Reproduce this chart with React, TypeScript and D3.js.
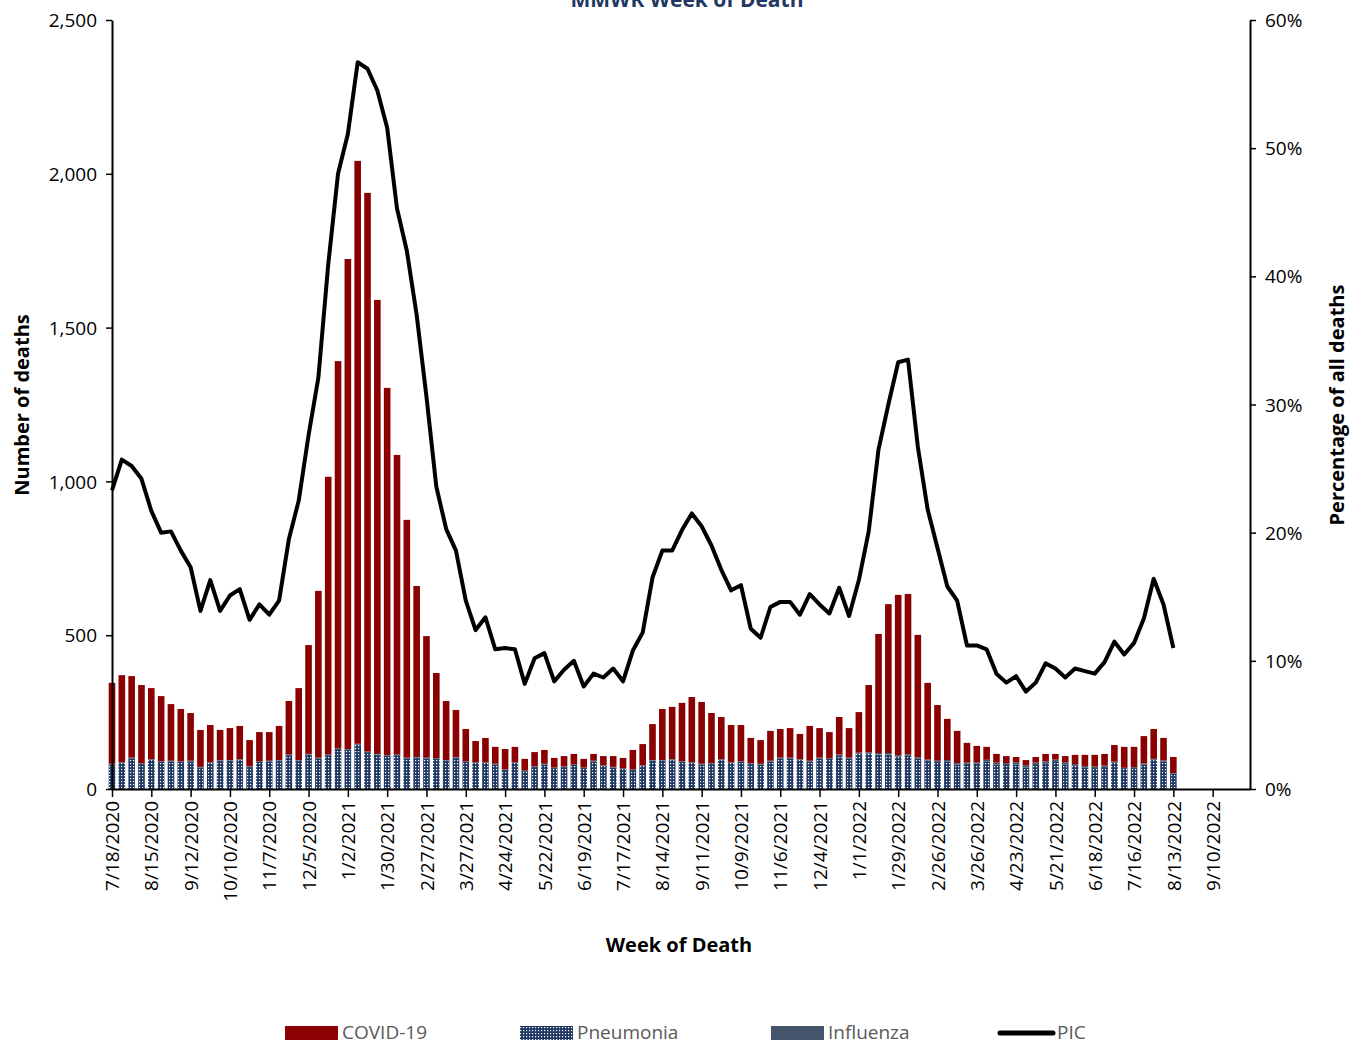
import React, { useEffect, useRef } from 'react';
import * as d3 from 'd3';

// Week labels every 4 weeks from 7/18/2020
const tickLabels = ['7/18/2020', '8/15/2020', '9/12/2020', '10/10/2020', '11/7/2020', '12/5/2020', '1/2/2021', '1/30/2021', '2/27/2021', '3/27/2021', '4/24/2021', '5/22/2021', '6/19/2021', '7/17/2021', '8/14/2021', '9/11/2021', '10/9/2021', '11/6/2021', '12/4/2021', '1/1/2022', '1/29/2022', '2/26/2022', '3/26/2022', '4/23/2022', '5/21/2022', '6/18/2022', '7/16/2022', '8/13/2022', '9/10/2022'];

// total deaths (PIC bar height) per week
const totals = [345, 370, 367, 338, 328, 302, 276, 260, 247, 192, 208, 192, 198, 205, 159, 185, 185, 205, 286, 328,
  468, 644, 1015, 1391, 1723, 2042, 1938, 1590, 1304, 1086, 875, 660, 497, 377, 286, 257, 195, 156, 166, 137,
  130, 137, 98, 120, 127, 101, 107, 114, 98, 114, 107, 107, 101, 127, 146, 211, 260, 267, 280, 299,
  283, 247, 234, 208, 208, 166, 159, 189, 195, 198, 179, 205, 198, 185, 234, 198, 250, 338, 504, 601,
  631, 634, 501, 345, 273, 228, 189, 150, 140, 137, 114, 107, 104, 94, 104, 114, 114, 107, 111, 111,
  111, 114, 143, 137, 137, 172, 195, 166, 104];

const pneumonia = [80, 85, 100, 82, 95, 88, 90, 88, 90, 70, 85, 92, 92, 95, 72, 88, 90, 92, 110, 92,
  112, 100, 110, 130, 128, 145, 120, 112, 108, 110, 100, 102, 100, 98, 92, 102, 88, 85, 85, 80,
  62, 85, 58, 72, 80, 68, 72, 78, 68, 90, 75, 70, 65, 62, 75, 92, 92, 95, 88, 85,
  80, 82, 95, 85, 88, 82, 80, 90, 100, 100, 95, 90, 100, 98, 110, 100, 115, 115, 112, 112,
  105, 108, 98, 92, 88, 90, 80, 82, 82, 90, 80, 78, 80, 70, 78, 82, 88, 80, 75, 70,
  68, 72, 85, 65, 68, 80, 95, 90, 50];

const influenza = [2, 2, 2, 2, 2, 2, 2, 2, 2, 2, 2, 2, 2, 2, 2, 2, 2, 2, 2, 2,
  2, 2, 2, 2, 2, 2, 2, 2, 2, 2, 2, 2, 2, 2, 2, 2, 2, 2, 2, 2,
  2, 2, 2, 2, 2, 2, 2, 2, 2, 2, 2, 2, 2, 2, 2, 2, 2, 2, 2, 2,
  2, 2, 2, 2, 2, 2, 2, 2, 2, 2, 2, 2, 2, 2, 2, 2, 3, 4, 5, 5,
  5, 5, 5, 4, 4, 4, 4, 4, 5, 5, 6, 6, 7, 7, 8, 8, 8, 7, 6, 5,
  5, 4, 4, 4, 3, 3, 3, 3, 2];

// percent of all deaths due to PIC
const picPct = [23.3, 25.7, 25.2, 24.2, 21.7, 20.0, 20.1, 18.6, 17.3, 13.9, 16.3, 13.9, 15.1, 15.6, 13.2, 14.4, 13.6, 14.7, 19.5, 22.5,
  27.6, 32.1, 40.9, 48.0, 51.1, 56.7, 56.2, 54.5, 51.6, 45.3, 42.0, 37.0, 30.6, 23.6, 20.3, 18.6, 14.7, 12.4, 13.4, 10.9,
  11.0, 10.9, 8.2, 10.2, 10.6, 8.4, 9.3, 10.0, 8.0, 9.0, 8.7, 9.4, 8.4, 10.8, 12.2, 16.5, 18.6, 18.6, 20.2, 21.5,
  20.5, 19.0, 17.1, 15.5, 15.9, 12.5, 11.8, 14.2, 14.6, 14.6, 13.6, 15.2, 14.4, 13.7, 15.7, 13.5, 16.3, 20.1, 26.5, 30.0,
  33.3, 33.5, 26.7, 21.8, 18.8, 15.8, 14.7, 11.2, 11.2, 10.9, 9.0, 8.3, 8.8, 7.6, 8.3, 9.8, 9.4, 8.7, 9.4, 9.2,
  9.0, 9.9, 11.5, 10.5, 11.4, 13.3, 16.4, 14.4, 11.0];

const leftTicks = [0, 500, 1000, 1500, 2000, 2500];
const rightTicks = [0, 10, 20, 30, 40, 50, 60];

const App: React.FC = () => {
  const ref = useRef<SVGSVGElement | null>(null);

  useEffect(() => {
    if (!ref.current) return;
    const svg = d3.select(ref.current);
    svg.selectAll('*').remove();
    const font = 'Open Sans, sans-serif';
    const left = 112, right = 1250, top = 20, bottom = 789;

    const x = d3.scaleLinear().domain([0, 115.8]).range([left, right]);
    const y = d3.scaleLinear().domain([0, 2500]).range([bottom, top]);
    const y2 = d3.scaleLinear().domain([0, 60]).range([bottom, top]);
    const bw = 6.6;

    const defs = svg.append('defs');
    const pat = defs.append('pattern').attr('id', 'dots').attr('patternUnits', 'userSpaceOnUse')
      .attr('width', 3).attr('height', 3);
    pat.append('rect').attr('width', 3).attr('height', 3).attr('fill', '#1f3763');
    pat.append('rect').attr('x', 1).attr('y', 1).attr('width', 1.2).attr('height', 1.2).attr('fill', '#fff');

    const idx = d3.range(totals.length);
    // pneumonia bottom
    svg.append('g').selectAll('rect').data(idx).enter().append('rect')
      .attr('x', (i) => x(i) - bw / 2).attr('width', bw)
      .attr('y', (i) => y(pneumonia[i])).attr('height', (i) => y(0) - y(pneumonia[i]))
      .attr('fill', 'url(#dots)');
    // influenza
    svg.append('g').selectAll('rect').data(idx).enter().append('rect')
      .attr('x', (i) => x(i) - bw / 2).attr('width', bw)
      .attr('y', (i) => y(pneumonia[i] + influenza[i])).attr('height', (i) => y(pneumonia[i]) - y(pneumonia[i] + influenza[i]))
      .attr('fill', '#44546a');
    // covid on top
    svg.append('g').selectAll('rect').data(idx).enter().append('rect')
      .attr('x', (i) => x(i) - bw / 2).attr('width', bw)
      .attr('y', (i) => y(totals[i])).attr('height', (i) => y(pneumonia[i] + influenza[i]) - y(totals[i]))
      .attr('fill', '#8b0000');

    const line = d3.line<number>().x((_, i) => x(i)).y((d) => y2(d));
    svg.append('path').datum(picPct).attr('d', line).attr('fill', 'none')
      .attr('stroke', '#000').attr('stroke-width', 4).attr('stroke-linejoin', 'round');

    // left axis
    const la = svg.append('g').attr('transform', `translate(${left},0)`)
      .call(d3.axisLeft(y).tickValues(leftTicks).tickFormat(d3.format(',')).tickSize(6).tickSizeOuter(0));
    la.select('.domain').attr('stroke-width', 2);
    la.selectAll('line').attr('stroke-width', 1.5);
    la.selectAll('text').style('font-size', '19px').style('font-family', font).attr('dx', '-6').attr('dy', '0.35em');

    // right axis
    const ra = svg.append('g').attr('transform', `translate(${right},0)`)
      .call(d3.axisRight(y2).tickValues(rightTicks).tickFormat((d) => `${d}%`).tickSize(6).tickSizeOuter(0));
    ra.select('.domain').attr('stroke-width', 2);
    ra.selectAll('line').attr('stroke-width', 1.5);
    ra.selectAll('text').style('font-size', '19px').style('font-family', font).attr('dx', '6').attr('dy', '0.35em');

    // bottom axis
    const ba = svg.append('g').attr('transform', `translate(0,${bottom})`)
      .call(d3.axisBottom(x).tickValues(tickLabels.map((_, i) => i * 4))
        .tickFormat((d) => tickLabels[(d as number) / 4]).tickSize(8).tickSizeOuter(0));
    ba.select('.domain').attr('stroke-width', 2);
    ba.selectAll('line').attr('stroke-width', 1.5);
    ba.selectAll('text').attr('transform', 'rotate(-90)').attr('x', -12).attr('y', 0).attr('dy', '0.35em')
      .style('text-anchor', 'end').style('font-size', '19px').style('font-family', font);

    svg.append('text').attr('x', 687).attr('y', 7).attr('text-anchor', 'middle')
      .style('font-family', font).style('font-weight', 'bold').style('font-size', '21px').attr('fill', '#1f3864')
      .text('MMWR Week of Death');
    svg.append('text').attr('x', 679).attr('y', 952).attr('text-anchor', 'middle')
      .style('font-family', font).style('font-weight', 'bold').style('font-size', '20px').text('Week of Death');
    svg.append('text').attr('transform', 'translate(29,405) rotate(-90)').attr('text-anchor', 'middle')
      .style('font-family', font).style('font-weight', 'bold').style('font-size', '20px').text('Number of deaths');
    svg.append('text').attr('transform', 'translate(1344,405) rotate(-90)').attr('text-anchor', 'middle')
      .style('font-family', font).style('font-weight', 'bold').style('font-size', '20px').text('Percentage of all deaths');

    // legend
    const lg = svg.append('g').style('font-family', font).style('font-size', '19px').attr('fill', '#595959');
    const items = [
      { x: 285, label: 'COVID-19', fill: '#8b0000' },
      { x: 520, label: 'Pneumonia', fill: 'url(#dots)' },
      { x: 771, label: 'Influenza', fill: '#44546a' },
    ];
    items.forEach((it) => {
      lg.append('rect').attr('x', it.x).attr('y', 1026).attr('width', 53).attr('height', 14).attr('fill', it.fill);
      lg.append('text').attr('x', it.x + 57).attr('y', 1039).text(it.label);
    });
    lg.append('line').attr('x1', 1000).attr('x2', 1053).attr('y1', 1033).attr('y2', 1033)
      .attr('stroke', '#000').attr('stroke-width', 5).attr('stroke-linecap', 'round');
    lg.append('text').attr('x', 1057).attr('y', 1039).text('PIC');
  }, []);

  return <svg ref={ref} width={1364} height={1044} style={{ position: 'absolute', left: 0, top: 0, overflow: 'visible' }} />;
};

export default App;
